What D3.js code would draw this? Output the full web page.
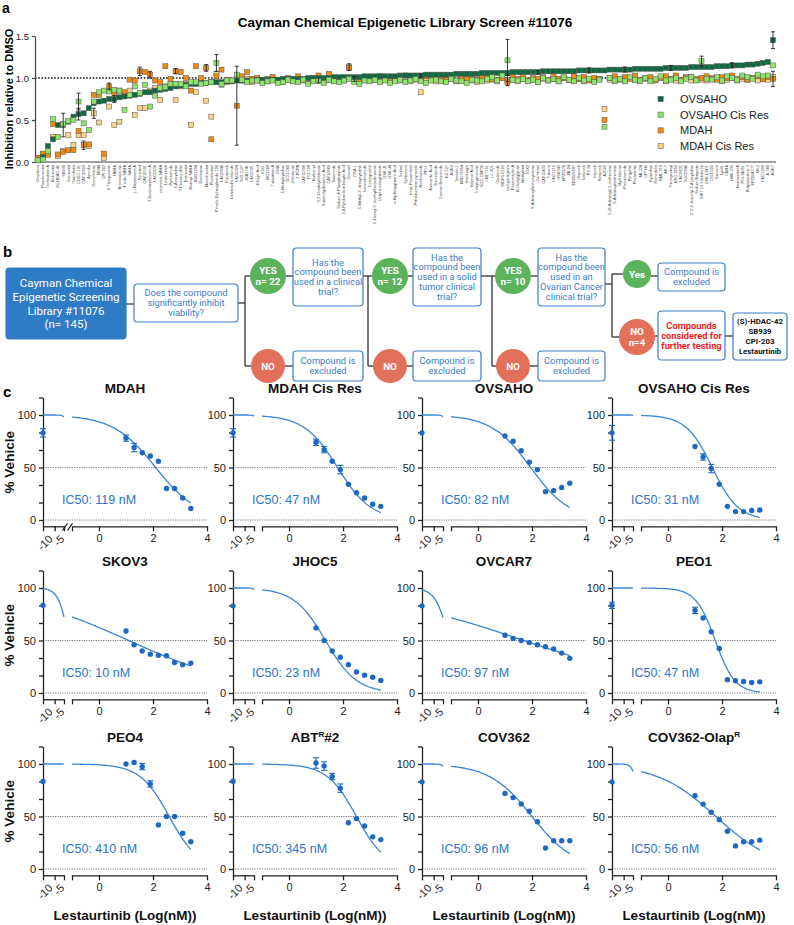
<!DOCTYPE html>
<html>
<head>
<meta charset="utf-8">
<script src="https://cdn.jsdelivr.net/npm/d3@7"></script>
<style>
  body { margin: 0; background: #fff; }
  svg { font-family: "Liberation Sans", Arial, sans-serif; }
  .flow { font-family: Roboto, "Liberation Sans", sans-serif; }
</style>
</head>
<body>
<svg id="fig" width="794" height="925"></svg>
<script>
// ---------- panel a data ----------
const compounds = [
  "Chaetocin","Panobinostat","Trichostatin A","Belinostat","(S)-HDAC-42","SB939","Givinostat","Oxamflatin","CUDC-101","CAY10603",
  "Apicidin","Gemcitabine","M344","CPI-203","6-Thioguanine","HNHA","Bromosporine","4-iodo-SAHA","SAHA","(-)-Neplanocin A",
  "Scriptaid","CAY10591","3-Deazaneplanocin A","UNC0638","coumarin-SAHA","Lestaurtinib","Pyroxamide","5-Azacytidine","3-Deazauridine","Entinostat",
  "Biotinyl-SAHA","BIX01294","Decitabine","Mocetinostat","Piceatannol","Pimelic Diphenylamide 106","UNC0646","Rucaparib","Delphinidin chloride","UNC0224",
  "SGI-1027","JGB1741","UNC0321","Ellagic Acid","IOX1","MC1568","Tubastatin A","C646","5-Methylcytidine","DCG-066",
  "Zebularine","2-PCPA","CAY10398","RG-108","Nullscript","3,3'-Diindolylmethane","Suberohydroxamic Acid","CAY10669","Salermide","Sodium 4-Phenylbutyrate",
  "2,4-Pyridinedicarboxylic Acid","Garcinol","ITSA-1","5-Methyl-2'-deoxycytidine","Isonicotinamide","Lomeguatrib","5'-Deoxy-5'-(methylthio)adenosine","Octyl-α-ketoglutarate","GSK-J1","GSK-J4",
  "α-Hydroxyglutaric Acid","Sirtinol","Splitomicin","trans-Resveratrol","Phthalazinone pyrazole","Nicotinamide","PFI-1","Anacardic Acid","Daminozide","3-amino Benzamide",
  "EX-527","AGK2","Tenovin-1","BRD73954","Sinefungin","Valproic Acid","Tranylcypromine","SGC-CBP30","I-BET151","(+)-JQ1",
  "Chidamide","WDR5-0103","Isoliquiritigenin","Psammaplin A","N-Oxalylglycine","Methylstat","IOX2","S-Adenosylhomocysteine","Cambinol","CAY10433",
  "Tubacin","UNC1215","GSK343","EPZ5676","JIB-04","EPZ005687","Olaparib","Veliparib","PJ-34","Iniparib",
  "Niraparib","AZ505","5-(S-Adenosyl)-L-methionine","S-Adenosylmethionine","Hydralazine","Procainamide","Pargyline","Phenelzine","ML324","CPTH2",
  "Ryuvidine","Remodelin","BML-210","AK-7","Thiomyristoyl","NSC 3852","UNC0631","SGC0946","2',3',5'-triacetyl-5-Azacytidine","Sodium Butyrate",
  "SIRT1/2 Inhibitor IV","GSK-LSD1","OG-L002","Suramin","Lys01","CBHA","LMK-235","Nexturastat A","PCI-34051","Butyrolactone 3",
  "EPZ004777","MI-2","UNC1999","A-366","AGK7"
];

const ovsaho = [
  0.02,0.06,0.19,0.27,0.44,0.44,0.48,0.54,0.57,0.58,
  0.64,0.70,0.72,0.73,0.75,0.75,0.77,0.78,0.79,0.80,
  0.81,0.83,0.83,0.85,0.86,0.87,0.88,0.90,0.91,0.92,
  0.93,0.93,0.94,0.94,0.95,0.95,0.95,0.96,0.96,0.97,
  0.97,0.97,0.97,0.98,0.98,0.98,0.98,0.98,0.99,0.99,
  0.99,0.99,0.99,1.00,1.00,1.00,1.00,1.00,1.01,1.01,
  1.01,1.01,1.01,1.01,1.02,1.02,1.02,1.02,1.02,1.02,
  1.02,1.03,1.03,1.03,1.03,1.03,1.04,1.04,1.04,1.04,
  1.04,1.04,1.05,1.05,1.05,1.05,1.05,1.06,1.06,1.06,
  1.06,1.06,1.06,1.07,1.07,1.07,1.07,1.07,1.07,1.08,
  1.08,1.08,1.08,1.08,1.08,1.08,1.09,1.09,1.09,1.09,
  1.09,1.09,1.10,1.10,1.10,1.10,1.10,1.11,1.11,1.11,
  1.11,1.11,1.11,1.12,1.12,1.12,1.12,1.12,1.13,1.13,
  1.13,1.13,1.13,1.14,1.14,1.14,1.15,1.15,1.15,1.16,
  1.16,1.17,1.18,1.19,1.45
];
const ovsahoCis = [
  0.02,0.03,0.13,0.51,0.30,0.45,0.49,0.50,0.72,0.46,
  0.38,0.72,0.83,0.85,0.84,0.86,0.85,0.62,0.80,0.90,
  0.82,0.92,0.66,0.79,0.88,0.89,0.93,0.93,0.93,0.90,
  0.95,0.95,0.93,0.94,0.95,1.18,0.93,0.97,0.97,1.04,
  0.98,0.95,0.97,0.97,0.94,0.96,0.97,0.94,0.95,0.98,
  0.96,0.95,0.98,0.93,0.96,0.97,0.94,0.98,0.96,0.95,
  0.97,0.99,0.95,0.93,0.97,0.96,0.98,0.95,0.97,0.94,
  0.96,0.98,0.95,0.97,0.99,0.96,0.94,0.97,0.98,0.96,
  0.95,0.99,0.97,0.96,0.94,0.98,0.97,0.96,0.99,1.01,
  0.97,1.03,1.21,0.98,0.97,0.99,0.96,0.98,0.95,1.00,
  0.97,0.99,0.96,1.01,0.98,0.96,1.00,0.97,0.99,0.95,
  0.98,0.42,1.00,0.97,0.99,0.96,1.01,0.98,0.97,1.00,
  0.96,0.99,1.02,0.97,0.98,1.00,0.96,0.99,1.01,0.97,
  1.20,0.99,0.98,1.01,0.97,1.02,1.00,0.98,1.03,1.01,
  0.99,1.04,1.02,1.03,1.15
];
const mdah = [
  0.05,0.10,0.10,0.45,0.09,0.12,0.14,0.14,0.37,0.20,
  0.21,0.80,0.80,0.10,0.90,0.82,0.85,0.83,0.98,0.97,
  1.08,1.07,1.04,0.97,0.95,1.14,0.99,1.08,1.07,1.00,
  0.85,1.14,1.00,1.12,0.27,1.02,1.10,0.98,0.97,0.67,
  1.02,1.07,0.99,1.00,0.97,0.99,1.01,0.96,0.98,1.00,
  0.97,1.02,0.98,0.99,1.00,1.03,0.97,1.05,0.99,1.00,
  0.98,1.12,0.99,0.97,1.01,1.00,0.98,1.02,0.99,0.97,
  1.01,0.99,1.03,0.98,1.00,0.97,1.02,1.00,0.99,1.02,
  0.98,1.00,0.97,1.01,0.99,1.03,0.98,1.00,1.01,0.99,
  0.98,1.00,0.95,1.01,0.99,1.02,0.97,1.00,0.99,1.01,
  0.98,1.03,0.99,1.00,0.98,1.02,0.99,1.01,0.97,1.00,
  0.99,0.50,1.00,1.02,0.98,1.01,0.99,1.03,0.98,1.00,
  1.01,0.97,1.00,1.02,0.99,1.03,0.98,1.00,1.01,0.98,
  1.00,1.02,0.99,0.98,1.01,1.00,1.03,0.99,1.01,0.98,
  1.00,1.02,0.99,1.01,0.99
];
const mdahCis = [
  0.05,0.07,0.08,0.30,0.07,0.13,0.32,0.20,0.32,0.32,
  0.19,0.58,0.47,0.05,0.66,0.44,0.48,0.80,0.85,0.56,
  0.64,0.64,0.85,0.88,0.74,0.90,0.92,0.74,0.90,0.93,
  0.44,0.83,0.95,0.73,0.54,1.05,0.92,0.95,0.96,0.99,
  0.97,0.99,0.95,0.97,0.98,0.96,0.99,0.97,0.95,0.98,
  0.96,0.99,0.97,0.95,0.98,1.00,0.96,0.98,0.97,0.99,
  0.97,1.13,0.98,0.96,0.99,0.97,1.00,0.96,0.98,0.97,
  0.99,0.97,1.01,0.96,0.98,0.83,0.97,0.99,0.96,0.98,
  0.97,0.99,0.96,0.98,1.00,0.97,0.95,0.99,0.97,0.98,
  0.96,1.00,0.97,0.98,0.96,0.99,0.97,0.98,0.95,0.99,
  0.97,0.99,0.96,1.00,0.98,0.97,0.99,0.96,0.98,0.97,
  0.99,0.63,0.98,0.96,0.99,0.97,1.00,0.98,0.96,0.99,
  0.97,0.98,1.00,0.96,0.99,0.97,0.98,1.01,0.97,0.99,
  0.98,0.97,1.00,0.99,0.96,0.98,1.00,0.97,0.99,0.98,
  1.00,0.97,0.99,0.98,1.01
];
const screenNames = ["OVSAHO", "OVSAHO Cis Res", "MDAH", "MDAH Cis Res"];
const screenColors = ["#0e6a40", "#8de46b", "#f28a0e", "#f8d586"];
// [compound index, series index, SD]
const screenErr = [
  [5,0,0.14],[8,1,0.10],[8,0,0.07],[9,2,0.05],[11,3,0.06],[14,2,0.04],[15,0,0.04],
  [20,2,0.05],[22,2,0.04],[27,2,0.03],[33,2,0.04],[35,1,0.10],[39,2,0.47],[55,1,0.03],
  [61,3,0.04],[62,2,0.03],[75,0,0.02],[92,1,0.25],[92,3,0.06],[98,0,0.02],[108,0,0.03],
  [115,0,0.03],[124,0,0.03],[130,1,0.06],[136,0,0.03],[144,0,0.10],[144,2,0.09]
];

// ---------- panel c data ----------
const doseLog = [1, 1.3, 1.6, 1.9, 2.2, 2.5, 2.8, 3.1, 3.4];
const cellLines = ["MDAH", "MDAH Cis Res", "OVSAHO", "OVSAHO Cis Res",
                   "SKOV3", "JHOC5", "OVCAR7", "PEO1",
                   "PEO4", "ABT|R|#2", "COV362", "COV362-Olap|R|"];
const vehicleVal = [83, 83, 83, 83, 83.5, 83, 83, 83.5, 83.4, 83.6, 83, 83];
const vehicleErr = [4, 4, 0, 7, 0, 0, 0, 3, 0, 0, 0, 0];
const respMDAH     = [78, 69, 64, 61, 56, 30, 30, 21, 11];
const respMDAHcis  = [74, 67, 56, 48, 34, 26, 21, 15, 13];
const respOVSAHO   = [80, 75, 66, 55, 48, 27, 28, 31, 35];
const respOVSAHOcis= [70, 60, 49, 34, 13, 8, 8, 9, 9.5];
const respSKOV3    = [59, 46, 40, 37, 36, 35.5, 29, 27, 28.5];
const respJHOC5    = [62, 50, 40, 34, 27, 20, 17, 15, 12];
const respOVCAR7   = [55, 52, 50, 48, 46, 44, 42, 38, 33];
const respPEO1     = [78.7, 71.4, 58.4, 42.5, 12.7, 11.7, 11, 10, 10.6];
const respPEO4     = [100, 101.5, 97.5, 81, 42, 50, 50, 34, 26];
const respABT2     = [101, 98, 88, 77, 44, 48, 41, 30.6, 28];
const respCOV362   = [72, 68, 62, 55, 45, 20, 27, 27, 27];
const respCOV362O  = [69.7, 61.8, 54, 47, 36, 22, 26, 26, 27.5];
const errMDAH   = [3, 4, 0, 0, 0, 0, 0, 0, 0];
const errMDAHcis= [3, 3, 0, 4, 0, 0, 0, 0, 0];
const errOVcis  = [0, 3, 4, 0, 0, 0, 0, 0, 0];
const errPEO1   = [3, 0, 0, 0, 0, 0, 0, 0, 0];
const errPEO4   = [0, 0, 3, 3, 0, 0, 0, 0, 0];
const errABT2   = [5, 4, 3, 4, 0, 0, 0, 0, 0];
const zeros     = [0, 0, 0, 0, 0, 0, 0, 0, 0];
const responses = [respMDAH, respMDAHcis, respOVSAHO, respOVSAHOcis, respSKOV3, respJHOC5,
                   respOVCAR7, respPEO1, respPEO4, respABT2, respCOV362, respCOV362O];
const respErr = [errMDAH, errMDAHcis, zeros, errOVcis, zeros, zeros, zeros, errPEO1, errPEO4, errABT2, zeros, zeros];
// 4PL fit parameters (top 100, bottom 0)
const fitLogIC50 = [2.1, 1.8, 1.95, 1.64, 1.1, 1.35, 1.7, 1.75, 2.6, 2.5, 2.0, 1.77];
const fitHill    = [0.55, 0.7, 0.6, 0.9, 0.2, 0.75, 0.15, 1.2, 0.8, 0.8, 0.55, 0.4];
const ic50Labels = ["IC50: 119 nM", "IC50: 47 nM", "IC50: 82 nM", "IC50: 31 nM",
                    "IC50: 10 nM", "IC50: 23 nM", "IC50: 97 nM", "IC50: 47 nM",
                    "IC50: 410 nM", "IC50: 345 nM", "IC50: 96 nM", "IC50: 56 nM"];

const svg = d3.select("#fig");
const ink = "#222";

// ================= panel a =================
svg.append("text").attr("x", 2).attr("y", 13).attr("font-size", 14).attr("font-weight", "bold").text("a");
svg.append("text").attr("x", 405).attr("y", 27).attr("text-anchor", "middle")
  .attr("font-size", 13.5).attr("font-weight", "bold")
  .text("Cayman Chemical Epigenetic Library Screen #11076");

const xA = d3.scalePoint().domain(d3.range(compounds.length)).range([37.7, 773]);
const yA = d3.scaleLinear().domain([0, 1.5]).range([162, 36]);

svg.append("line").attr("x1", 35).attr("x2", 776).attr("y1", yA(1)).attr("y2", yA(1))
  .attr("stroke", "#111").attr("stroke-width", 1.3).attr("stroke-dasharray", "1.6,1.6");

const axA = svg.append("g").attr("transform", "translate(35,0)")
  .call(d3.axisLeft(yA).tickValues([0, 0.5, 1, 1.5]).tickFormat(d3.format(".1f")).tickSize(3).tickSizeOuter(0));
axA.selectAll("text").attr("font-size", 9.5).attr("fill", ink).attr("font-family", "Liberation Sans, Arial");
axA.selectAll("path,line").attr("stroke", "#444").attr("stroke-width", 1.2);

svg.append("line").attr("x1", 35).attr("x2", 776).attr("y1", 162).attr("y2", 162)
  .attr("stroke", "#444").attr("stroke-width", 1.2);

svg.append("text").attr("transform", "translate(13,99) rotate(-90)").attr("text-anchor", "middle")
  .attr("font-size", 11).attr("font-weight", "bold").text("Inhibition relative to DMSO");

svg.append("g").selectAll("text").data(compounds).join("text")
  .attr("transform", (d, i) => `translate(${xA(i) + 1.3},165) rotate(-90)`)
  .attr("text-anchor", "end").attr("font-size", 3.9).attr("fill", "#444").text(d => d);

const screenData = [ovsaho, ovsahoCis, mdah, mdahCis];
[3, 2, 0, 1].forEach(s => {
  svg.append("g").selectAll("rect").data(screenData[s]).join("rect")
    .attr("x", (d, i) => xA(i) - 2.5).attr("y", d => yA(d) - 2.5)
    .attr("width", 5).attr("height", 5)
    .attr("fill", screenColors[s]).attr("stroke", "#555").attr("stroke-width", 0.5);
});

const eb = svg.append("g").attr("stroke", "#222").attr("stroke-width", 0.9);
screenErr.forEach(([i, s, sd]) => {
  const v = screenData[s][i], cx = xA(i);
  eb.append("line").attr("x1", cx).attr("x2", cx).attr("y1", yA(v - sd)).attr("y2", yA(v + sd));
  [v - sd, v + sd].forEach(e => eb.append("line").attr("x1", cx - 2).attr("x2", cx + 2).attr("y1", yA(e)).attr("y2", yA(e)));
});

const leg = svg.append("g");
screenNames.forEach((n, k) => {
  const ly = 99 + k * 15.7;
  leg.append("rect").attr("x", 658).attr("y", ly - 2.6).attr("width", 5.2).attr("height", 5.2)
    .attr("fill", screenColors[k]).attr("stroke", "#555").attr("stroke-width", 0.5);
  leg.append("text").attr("x", 680).attr("y", ly + 4).attr("font-size", 11).attr("fill", ink).text(n);
});

// ================= panel b =================
svg.append("text").attr("x", 3).attr("y", 257).attr("font-size", 15).attr("font-weight", "bold").text("b");
const fb = svg.append("g").attr("class", "flow");
const blue = "#3a7cc9", green = "#5bb35c", red = "#e2705a", lineCol = "#333";

function seg(x1, y1, x2, y2) {
  fb.append("line").attr("x1", x1).attr("y1", y1).attr("x2", x2).attr("y2", y2)
    .attr("stroke", lineCol).attr("stroke-width", 1.3);
}
function box(x, y, w, h, lines, opt = {}) {
  fb.append("rect").attr("x", x).attr("y", y).attr("width", w).attr("height", h).attr("rx", 3.5)
    .attr("fill", opt.fill || "#fff").attr("stroke", opt.stroke || blue).attr("stroke-width", 1.2);
  const fs = opt.fs || 9.3, lh = opt.lh || fs * 1.06;
  const cy = y + h / 2 - (lines.length - 1) * lh / 2;
  lines.forEach((t, k) => fb.append("text").attr("x", x + w / 2).attr("y", cy + k * lh + fs * 0.36)
    .attr("text-anchor", "middle").attr("font-size", fs).attr("fill", opt.color || blue)
    .attr("font-weight", opt.bold ? "bold" : "normal").text(t));
}
function circle(cx, cy, r, fill, lines) {
  fb.append("circle").attr("cx", cx).attr("cy", cy).attr("r", r).attr("fill", fill);
  const lh = 10.5, y0 = cy - (lines.length - 1) * lh / 2;
  lines.forEach((t, k) => fb.append("text").attr("x", cx).attr("y", y0 + k * lh + 3.5)
    .attr("text-anchor", "middle").attr("font-size", 9.8).attr("font-weight", "bold")
    .attr("fill", "#fff").text(t));
}

seg(126, 304, 134, 304);
seg(238, 303, 245, 303);
seg(245, 276, 245, 366); seg(245, 276, 252, 276); seg(245, 366, 252, 366);
seg(286, 276, 293, 276); seg(285, 366, 293, 366);
seg(363, 276, 368, 276); seg(368, 276, 368, 366); seg(368, 276, 374, 276); seg(368, 366, 374, 366);
seg(408, 276, 413, 276); seg(407, 366, 413, 366);
seg(481, 276, 492, 276); seg(492, 276, 492, 366); seg(492, 276, 497, 276); seg(492, 366, 497, 366);
seg(531, 276, 538, 276); seg(530, 366, 538, 366);
seg(605, 284, 612, 284); seg(612, 274, 612, 337); seg(612, 274, 623, 274); seg(612, 337, 620, 337);
seg(651, 276, 658, 276); seg(655, 336, 658, 336);
seg(725, 336, 733, 336);

box(6, 268, 120, 71, ["Cayman Chemical", "Epigenetic Screening", "Library #11076", "(n= 145)"],
    { fill: "#2f7cc6", stroke: "#2f7cc6", color: "#fff", fs: 11.5, lh: 13.8 });
box(134, 284, 104, 38, ["Does the compound", "significantly inhibit", "viability?"]);
box(293, 248, 70, 58, ["Has the", "compound been", "used in a clinical", "trial?"]);
box(413, 248, 68, 58, ["Has the", "compound been", "used in a solid", "tumor clinical", "trial?"]);
box(538, 248, 67, 58, ["Has the", "compound been", "used in an", "Ovarian Cancer", "clinical trial?"]);
box(293, 351, 70, 30, ["Compound is", "excluded"]);
box(413, 351, 68, 30, ["Compound is", "excluded"]);
box(538, 351, 67, 30, ["Compound is", "excluded"]);
box(658, 263, 67, 28, ["Compound is", "excluded"]);
box(658, 311, 67, 49, ["Compounds", "considered for", "further testing"], { color: "#ee1c24", bold: true, fs: 9.3, lh: 10.2 });
box(733, 313, 54, 47, ["(S)-HDAC-42", "SB939", "CPI-203", "Lestaurtinib"], { color: "#111", bold: true, fs: 7.8, lh: 10 });

circle(268, 276, 18, green, ["YES", "n= 22"]);
circle(268, 366, 17, red, ["NO"]);
circle(390, 276, 18, green, ["YES", "n= 12"]);
circle(390, 366, 17, red, ["NO"]);
circle(513, 276, 18, green, ["YES", "n= 10"]);
circle(513, 366, 17, red, ["NO"]);
circle(637, 274, 14, green, ["Yes"]);
circle(637, 337, 18, red, ["NO", "n=4"]);

// ================= panel c =================
svg.append("text").attr("x", 3).attr("y", 397).attr("font-size", 15).attr("font-weight", "bold").text("c");
const colX = [43, 233, 422, 612];
const rowY0 = [520, 693, 869];
const dotCol = "#1f68c1", fitCol = "#3a86d6";

function logistic(x, i) {
  return 100 / (1 + Math.pow(10, (x - fitLogIC50[i]) * fitHill[i]));
}

cellLines.forEach((name, i) => {
  const a0 = colX[i % 4], y0 = rowY0[Math.floor(i / 4)];
  const y = d3.scaleLinear().domain([0, 100]).range([y0, y0 - 105]);
  const axY = y(-6);
  const x1 = d3.scaleLinear().domain([-10, -1]).range([a0, a0 + 21]);
  const x2 = d3.scaleLinear().domain([-1, 4]).range([a0 + 29, a0 + 164]);
  const g = svg.append("g");

  // reference lines
  [0, 50].forEach(v => g.append("line").attr("x1", a0).attr("x2", x2(4)).attr("y1", y(v)).attr("y2", y(v))
    .attr("stroke", "#555").attr("stroke-width", 0.8).attr("stroke-dasharray", "1.2,1.2"));

  // y axis
  const ya = g.append("g").attr("transform", `translate(${a0},0)`)
    .call(d3.axisLeft(y.copy().domain([-6, 350 / 3]).range([axY, y(350 / 3)]))
      .tickValues(d3.range(0, 117, 50 / 3)).tickSize(4).tickSizeOuter(0)
      .tickFormat(d => [0, 50, 100].includes(Math.round(d)) ? Math.round(d) : ""));

  // x axis segments
  const xa1 = g.append("g").attr("transform", `translate(0,${axY})`)
    .call(d3.axisBottom(x1).tickValues([-10, -5, -1]).tickSize(5).tickSizeOuter(0).tickFormat(""));
  const xa2 = g.append("g").attr("transform", `translate(0,${axY})`)
    .call(d3.axisBottom(x2).tickValues([-1, 0, 2, 4]).tickSize(5).tickSizeOuter(0)
      .tickFormat(d => d === -1 ? "" : d));
  [ya, xa1, xa2].forEach(a => {
    a.selectAll("path,line").attr("stroke", ink).attr("stroke-width", 1.3);
    a.selectAll("text").attr("font-size", 11).attr("fill", ink).attr("font-family", "Liberation Sans, Arial");
  });
  xa2.selectAll("text").attr("y", 8);
  if (i === 0) {
    // break marks on the first panel
    [x1(-1) + 1, x2(-1) - 2].forEach(bx => g.append("line")
      .attr("x1", bx - 2.5).attr("y1", axY + 4).attr("x2", bx + 2.5).attr("y2", axY - 3)
      .attr("stroke", ink).attr("stroke-width", 1.2));
  }
  [[-10, "-10"], [-5, "-5"]].forEach(([v, t]) =>
    g.append("text").attr("transform", `translate(${x1(v) + 5},${axY + 8}) rotate(-45)`)
      .attr("text-anchor", "end").attr("dy", "0.7em").attr("font-size", 11).attr("fill", ink).text(t));

  // title
  const parts = name.split("|");
  const tt = g.append("text").attr("x", a0 + 82).attr("y", y(100) - 22)
    .attr("text-anchor", "middle").attr("font-size", 13.5).attr("font-weight", "bold").attr("fill", "#111");
  tt.append("tspan").text(parts[0]);
  if (parts.length > 1) {
    tt.append("tspan").attr("font-size", 8).attr("dy", -5).text(parts[1]);
    if (parts[2]) tt.append("tspan").attr("dy", 5).text(parts[2]);
  }

  // fit curve
  const line = d3.line().x(d => d[0]).y(d => d[1]);
  const s1 = d3.range(-10, -0.99, 0.1).map(x => [x1(x), y(logistic(x, i))]);
  const s2 = d3.range(-1, 3.401, 0.05).map(x => [x2(x), y(logistic(x, i))]);
  [s1, s2].forEach(s => g.append("path").attr("d", line(s)).attr("fill", "none")
    .attr("stroke", fitCol).attr("stroke-width", 1.3));

  // error bars + points
  const pts = doseLog.map((d, k) => ({ x: x2(d), v: responses[i][k], e: respErr[i][k] }));
  pts.unshift({ x: x1(-10), v: vehicleVal[i], e: vehicleErr[i] });
  pts.filter(p => p.e > 0).forEach(p => {
    g.append("line").attr("x1", p.x).attr("x2", p.x).attr("y1", y(p.v - p.e)).attr("y2", y(p.v + p.e))
      .attr("stroke", dotCol).attr("stroke-width", 1.1);
    [p.v - p.e, p.v + p.e].forEach(e => g.append("line").attr("x1", p.x - 3).attr("x2", p.x + 3)
      .attr("y1", y(e)).attr("y2", y(e)).attr("stroke", dotCol).attr("stroke-width", 1.1));
  });
  g.selectAll("circle.pt").data(pts).join("circle").attr("class", "pt")
    .attr("cx", p => p.x).attr("cy", p => y(p.v)).attr("r", 2.7).attr("fill", dotCol);

  g.append("text").attr("x", a0 + 19).attr("y", y0 - 16).attr("font-size", 12.5).attr("fill", "#2a74cc")
    .text(ic50Labels[i]);

  if (i % 4 === 0) {
    g.append("text").attr("transform", `translate(${a0 - 29},${y(55)}) rotate(-90)`).attr("text-anchor", "middle")
      .attr("font-size", 13.5).attr("font-weight", "bold").attr("fill", "#111").text("% Vehicle");
  }
  if (i >= 8) {
    g.append("text").attr("x", a0 + 82).attr("y", 920).attr("text-anchor", "middle")
      .attr("font-size", 13.5).attr("font-weight", "bold").attr("fill", "#111").text("Lestaurtinib (Log(nM))");
  }
});
</script>
</body>
</html>
